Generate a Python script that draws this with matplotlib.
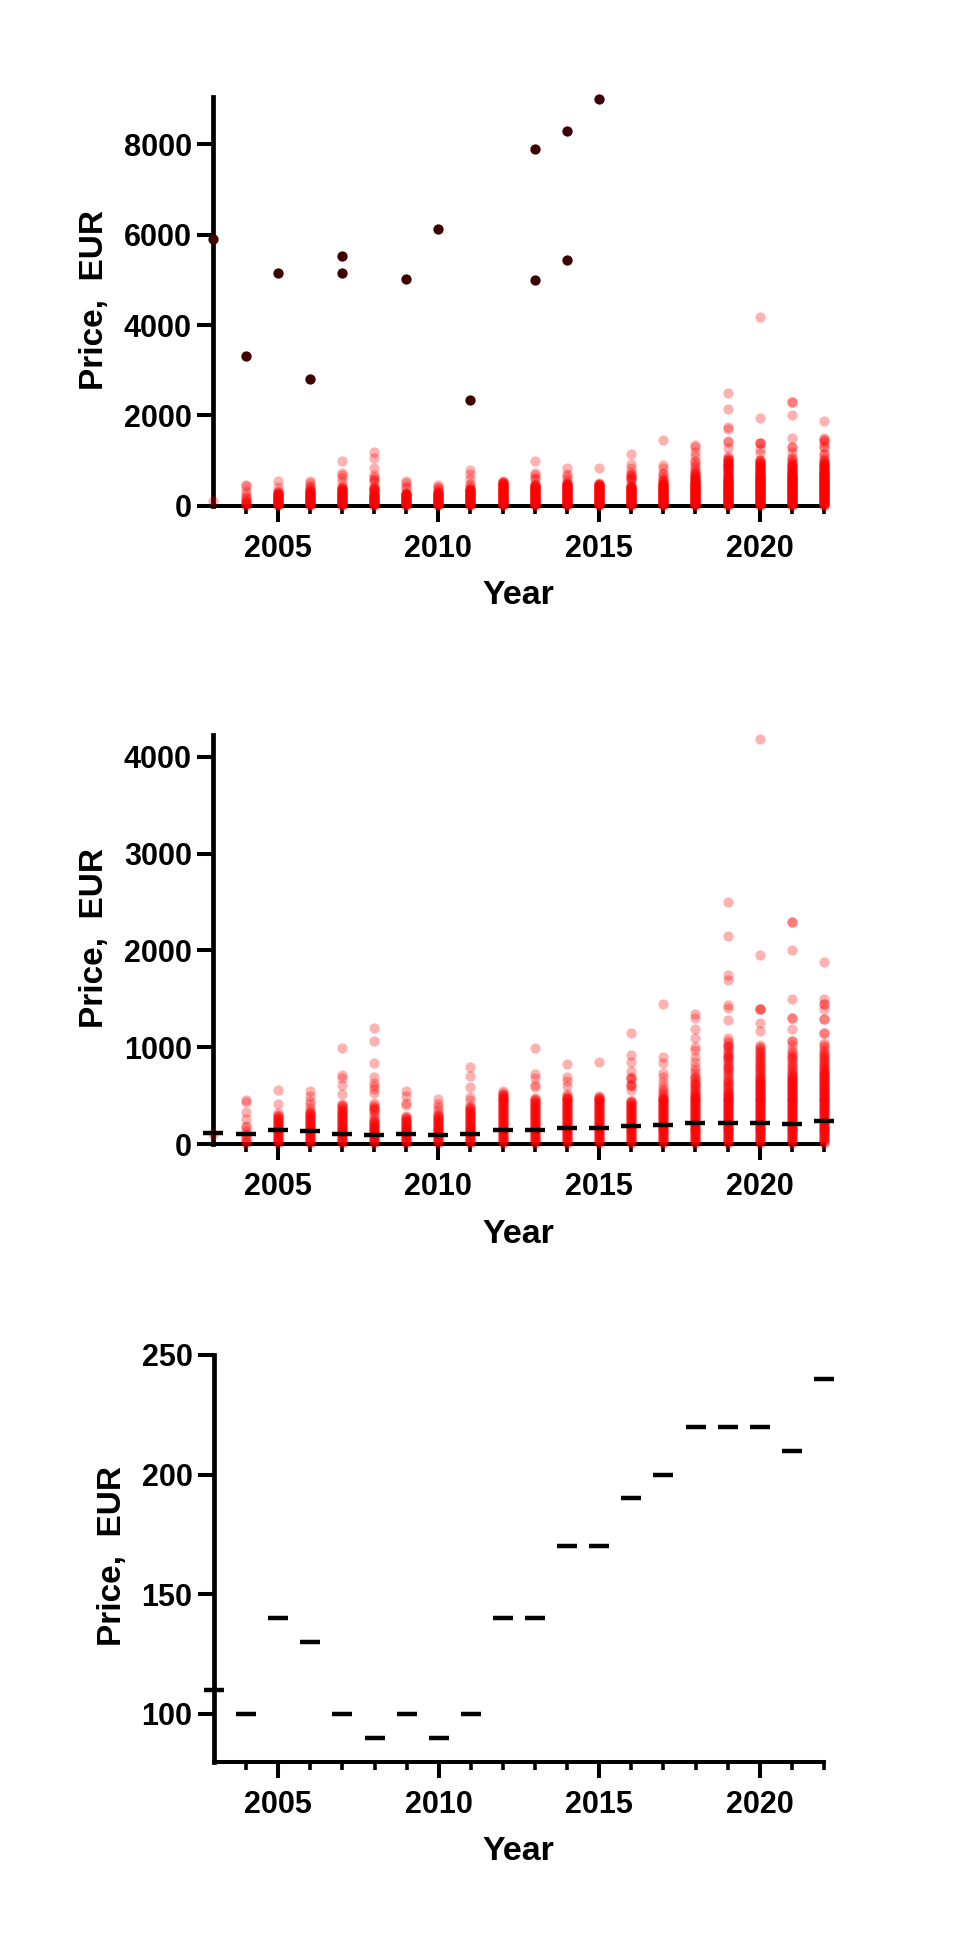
import matplotlib
matplotlib.use('Agg')
import matplotlib.pyplot as plt

plt.rcParams['font.family'] = ['Liberation Sans', 'DejaVu Sans']
plt.rcParams['font.weight'] = 'bold'

W, H = 964, 1942

years = list(range(2003, 2023))

# median price per year
medians = [110, 100, 140, 130, 100, 90, 100, 90, 100, 140,
           140, 170, 170, 190, 200, 220, 220, 220, 210, 240]

# expensive items, only shown dark in the first panel
outlier_years = [2003, 2004, 2005, 2006, 2007, 2007, 2009, 2010, 2011, 2013, 2013, 2014, 2014, 2015]
outlier_prices = [5900, 3310, 5160, 2795, 5525, 5160, 5010, 6135, 2330, 7900, 4985, 8290, 5445, 9000]

p2003 = [100]
p2004 = [10, 20, 40, 60, 80, 100, 130, 180, 190, 255, 330, 430, 455]
p2005 = [10, 20, 30, 40, 50, 60, 70, 80, 90, 100, 110, 120, 130, 140, 150, 160, 170, 180, 190, 200,
         210, 220, 230, 240, 250, 260, 270, 280, 290, 300, 320, 417, 558]
p2006 = [10, 20, 30, 40, 50, 60, 70, 80, 90, 100, 110, 120, 130, 140, 150, 160, 170, 180, 190, 200,
         210, 220, 230, 240, 250, 260, 270, 280, 290, 300, 310, 320, 330, 345, 369, 410, 448, 500, 544]
p2007 = [10, 20, 30, 40, 50, 60, 70, 80, 90, 100, 110, 120, 130, 140, 150, 160, 170, 180, 190, 200,
         210, 220, 230, 240, 250, 260, 270, 280, 290, 300, 310, 320, 330, 340, 350, 365, 380, 395, 405, 413,
         517, 610, 682, 716, 995]
p2008 = [10, 20, 30, 40, 50, 60, 70, 80, 90, 100, 110, 120, 130, 140, 150, 160, 170, 180, 190, 200,
         210, 220, 230, 240, 250, 270, 300, 330, 350, 365, 375, 386, 400, 427, 523, 565, 600, 627, 689, 840,
         1068, 1195]
p2009 = [10, 20, 30, 40, 50, 60, 70, 80, 90, 100, 110, 120, 130, 140, 150, 160, 170, 180, 190, 200,
         210, 220, 230, 240, 250, 260, 270, 280, 290, 400, 420, 500, 544]
p2010 = [10, 20, 30, 40, 50, 60, 70, 80, 90, 100, 110, 120, 130, 140, 150, 160, 170, 180, 190, 200,
         210, 220, 230, 240, 250, 260, 270, 280, 290, 300, 310, 351, 386, 413, 465]
p2011 = [10, 20, 30, 40, 50, 60, 70, 80, 90, 100, 110, 120, 130, 140, 150, 160, 170, 180, 190, 200,
         210, 220, 230, 240, 250, 260, 270, 280, 290, 300, 310, 320, 330, 340, 350, 360, 370, 380, 395, 455,
         489, 585, 703, 795]
p2012 = [10, 20, 30, 40, 50, 60, 70, 80, 90, 100, 110, 120, 130, 140, 150, 160, 170, 180, 190, 200,
         210, 220, 230, 240, 250, 260, 270, 280, 290, 300, 310, 320, 330, 340, 350, 360, 370, 380, 390, 400,
         410, 420, 430, 440, 450, 460, 470, 480, 490, 500, 510, 520, 530, 545]
p2013 = [10, 20, 30, 40, 50, 60, 70, 80, 90, 100, 110, 120, 130, 140, 150, 160, 170, 180, 190, 200,
         210, 220, 230, 240, 250, 260, 270, 280, 290, 300, 310, 320, 330, 340, 350, 360, 370, 380, 390, 400,
         410, 420, 430, 440, 450, 460, 472, 589, 610, 678, 723, 995]
p2014 = [10, 20, 30, 40, 50, 60, 70, 80, 90, 100, 110, 120, 130, 140, 150, 160, 170, 180, 190, 200,
         210, 220, 230, 240, 250, 260, 270, 280, 290, 300, 310, 320, 330, 340, 350, 360, 370, 380, 390, 400,
         410, 420, 430, 440, 450, 460, 470, 480, 490, 500, 517, 600, 654, 696, 827]
p2015 = [10, 20, 30, 40, 50, 60, 70, 80, 90, 100, 110, 120, 130, 140, 150, 160, 170, 180, 190, 200,
         210, 220, 230, 240, 250, 260, 270, 280, 290, 300, 310, 320, 330, 340, 350, 360, 370, 380, 390, 400,
         410, 420, 430, 440, 450, 460, 470, 480, 490, 496, 844]
p2016 = [10, 20, 30, 40, 50, 60, 70, 80, 90, 100, 110, 120, 130, 140, 150, 160, 170, 180, 190, 200,
         210, 220, 230, 240, 250, 260, 270, 280, 290, 300, 310, 320, 330, 340, 350, 360, 370, 380, 390, 400,
         410, 420, 430, 440, 448, 558, 600, 610, 620, 668, 680, 696, 758, 844, 916, 1143]
p2017 = [10, 20, 30, 40, 50, 60, 70, 80, 90, 100, 110, 120, 130, 140, 150, 160, 170, 180, 190, 200,
         210, 220, 230, 240, 250, 260, 270, 280, 290, 300, 310, 320, 330, 340, 350, 360, 370, 380, 390, 400,
         410, 420, 430, 440, 450, 460, 470, 480, 490, 505, 525, 545, 565, 600, 640, 696, 730, 840, 895, 1446]
p2018 = [10, 20, 30, 40, 50, 60, 70, 80, 90, 100, 110, 120, 130, 140, 150, 160, 170, 180, 190, 200,
         210, 220, 230, 240, 250, 260, 270, 280, 290, 300, 310, 320, 330, 340, 350, 360, 370, 380, 390, 400,
         410, 420, 430, 440, 450, 460, 470, 480, 490, 500, 510, 520, 530, 545, 560, 575, 592, 605, 620, 635,
         650, 670, 696, 696, 730, 760, 792, 851, 895, 971, 999, 1092, 1192, 1298, 1343]
p2019 = [10, 20, 30, 40, 50, 60, 70, 80, 90, 100, 110, 120, 130, 140, 150, 160, 170, 180, 190, 200,
         210, 220, 230, 240, 250, 260, 270, 280, 290, 300, 310, 320, 330, 340, 350, 360, 370, 380, 390, 400,
         410, 420, 430, 440, 450, 460, 470, 480, 490, 500, 510, 520, 530, 540, 550, 565, 580, 595, 610, 625,
         640, 655, 670, 690, 710, 730, 750, 770, 785, 800, 820, 840, 860, 880, 895, 895, 910, 930, 950, 975,
         1000, 1016, 1016, 1040, 1068, 1099, 1285, 1402, 1436, 1694, 1750, 2149, 2500]
p2020 = [10, 20, 30, 40, 50, 60, 70, 80, 90, 100, 110, 120, 130, 140, 150, 160, 170, 180, 190, 200,
         210, 220, 230, 240, 250, 260, 270, 280, 290, 300, 310, 320, 330, 340, 350, 360, 370, 380, 390, 400,
         410, 420, 430, 440, 450, 460, 470, 480, 490, 500, 510, 520, 530, 540, 550, 560, 570, 580, 590, 600,
         610, 620, 630, 640, 650, 660, 670, 680, 695, 710, 725, 740, 755, 770, 785, 800, 815, 830, 845, 860,
         875, 890, 905, 920, 940, 955, 971, 990, 1005, 1020, 1164, 1247, 1398, 1398, 1398, 1950, 4180]
p2021 = [10, 20, 30, 40, 50, 60, 70, 80, 90, 100, 110, 120, 130, 140, 150, 160, 170, 180, 190, 200,
         210, 220, 230, 240, 250, 260, 270, 280, 290, 300, 310, 320, 330, 340, 350, 360, 370, 380, 390, 400,
         410, 420, 430, 440, 450, 460, 470, 480, 490, 500, 510, 520, 530, 540, 550, 560, 570, 580, 590, 600,
         610, 620, 630, 640, 650, 660, 670, 680, 690, 700, 715, 730, 745, 760, 780, 799, 820, 840, 860, 885,
         885, 905, 930, 950, 971, 1020, 1068, 1068, 1192, 1298, 1298, 1495, 2000, 2293, 2293]
p2022 = [10, 20, 30, 40, 50, 60, 70, 80, 90, 100, 110, 120, 130, 140, 150, 160, 170, 180, 190, 200,
         210, 220, 230, 240, 250, 260, 270, 280, 290, 300, 310, 320, 330, 340, 350, 360, 370, 380, 390, 400,
         410, 420, 430, 440, 450, 460, 470, 480, 490, 500, 510, 520, 530, 540, 550, 560, 570, 580, 590, 600,
         610, 620, 630, 640, 650, 660, 670, 680, 690, 700, 710, 720, 730, 740, 750, 765, 780, 795, 810, 825,
         840, 855, 870, 885, 902, 915, 930, 954, 975, 999, 1020, 1047, 1147, 1147, 1295, 1295, 1395, 1446, 1446,
         1495, 1877]

all_prices = [p2003, p2004, p2005, p2006, p2007, p2008, p2009, p2010, p2011, p2012,
              p2013, p2014, p2015, p2016, p2017, p2018, p2019, p2020, p2021, p2022]

major_years = [2005, 2010, 2015, 2020]
minor_years = [y for y in years if y not in major_years and y != 2003]


def make_axes(fig, x0, x1, y_top, y_bottom, ylim, yticks):
    ax = fig.add_axes([x0 / W, 1 - y_bottom / H, (x1 - x0) / W, (y_bottom - y_top) / H])
    ax.set_xlim(2003, 2022)
    ax.set_ylim(*ylim)
    ax.spines['top'].set_visible(False)
    ax.spines['right'].set_visible(False)
    ax.spines['left'].set_linewidth(3.4)
    ax.spines['bottom'].set_linewidth(2.9)
    ax.set_xticks(major_years)
    ax.set_xticks(minor_years, minor=True)
    ax.set_yticks(yticks)
    ax.tick_params(axis='x', which='major', length=11.5, width=2.9, labelsize=22, pad=9)
    ax.tick_params(axis='x', which='minor', length=6, width=2.6)
    ax.tick_params(axis='y', which='major', length=11.5, width=2.9, labelsize=22, pad=4)
    return ax


def draw_prices(ax):
    for year, prices in zip(years, all_prices):
        ax.scatter([year] * len(prices), prices, s=55, color='red', alpha=0.3,
                   linewidths=0, clip_on=False, zorder=3)


def draw_medians(ax):
    ax.plot(years, medians, linestyle='none', marker='_', color='black', markersize=15,
            markeredgewidth=3.2, clip_on=False, zorder=4)


def add_labels(fig, x_year, y_year, x_price, y_price):
    fig.text(x_year / W, 1 - y_year / H, 'Year', fontsize=24.5, ha='center', va='center')
    fig.text(x_price / W, 1 - y_price / H, 'Price,  EUR', fontsize=24, rotation=90,
             ha='center', va='center')


fig = plt.figure(figsize=(W / 100, H / 100), dpi=100)

# all prices with the expensive ones in dark
ax1 = make_axes(fig, 213.4, 824, 97, 505.8, (0, 9045), [0, 2000, 4000, 6000, 8000])
draw_prices(ax1)
ax1.scatter(outlier_years, outlier_prices, s=55, color='#3f0000', linewidths=0, clip_on=False, zorder=4)
add_labels(fig, 518.6, 596, 94, 300)

# same without the dark points, medians on top
ax2 = make_axes(fig, 213.4, 824, 735, 1144, (0, 4225), [0, 1000, 2000, 3000, 4000])
draw_prices(ax2)
draw_medians(ax2)
add_labels(fig, 518.6, 1234, 94, 938)

# medians only
ax3 = make_axes(fig, 214, 824, 1354.8, 1761.8, (80, 250), [100, 150, 200, 250])
draw_medians(ax3)
add_labels(fig, 518.6, 1851.5, 112, 1556)

fig.savefig('out.png', dpi=100)
